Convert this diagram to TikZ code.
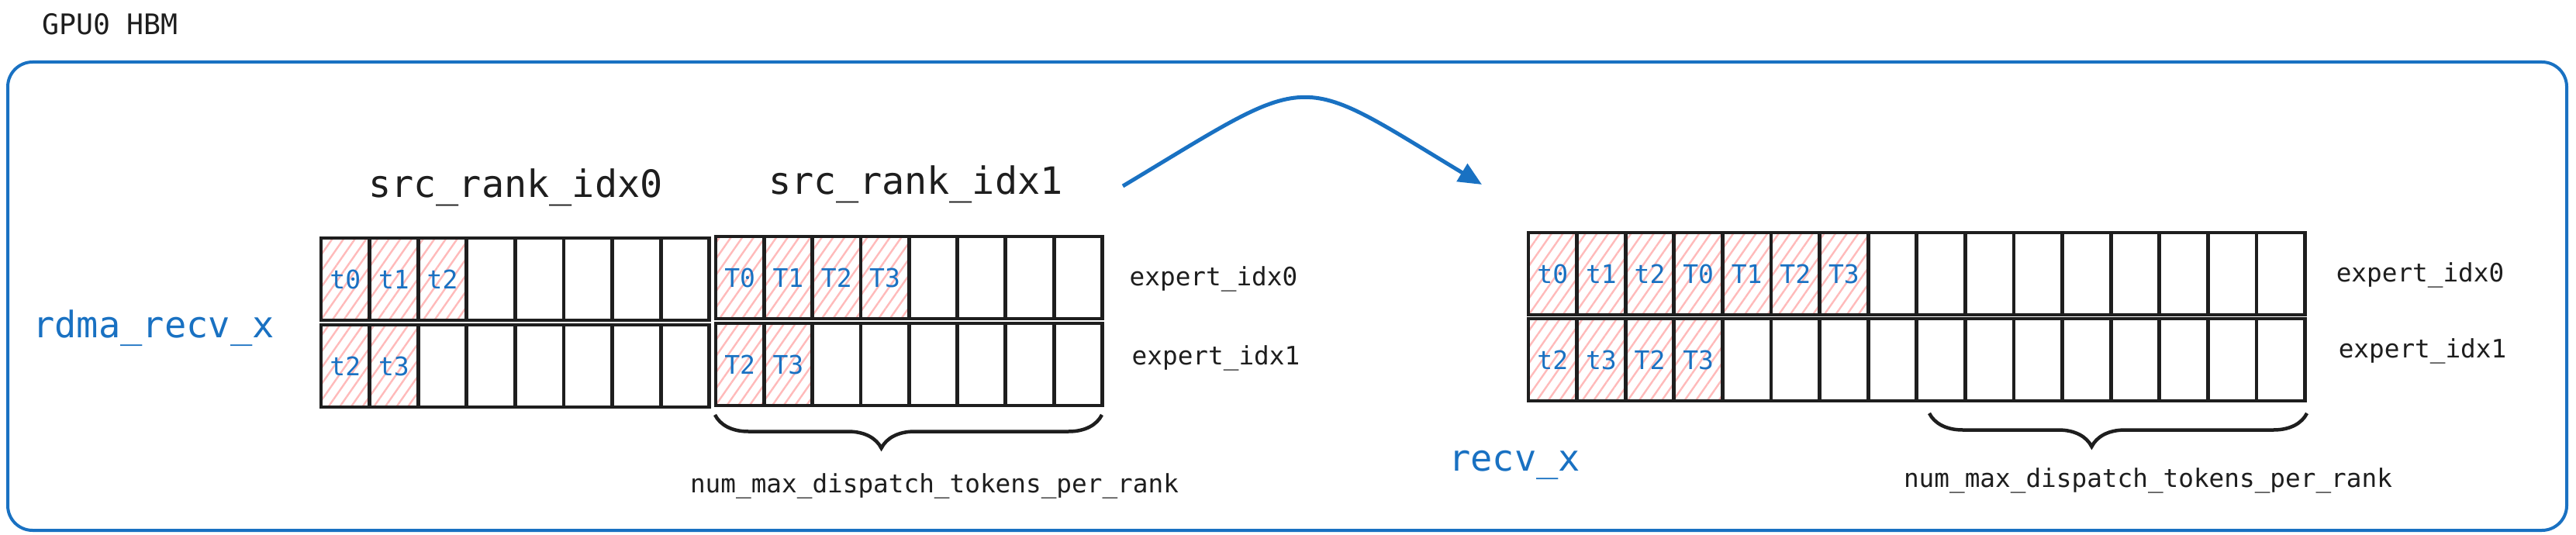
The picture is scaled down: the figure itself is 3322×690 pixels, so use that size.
\documentclass[tikz,border=0pt]{standalone}
\usepackage{fontspec}
\newfontfamily\codefont{DejaVu Sans Mono}
\usetikzlibrary{patterns.meta,decorations.pathreplacing,arrows.meta}
\definecolor{ink}{HTML}{1E1E1E}
\definecolor{blueink}{HTML}{1971C2}
\definecolor{hatch}{HTML}{FFBABA}
\newcommand{\myfs}[1]{\fontsize{#1}{#1}\selectfont}
\begin{document}
\begin{tikzpicture}[x=1pt,y=-1pt,
  frame/.style={draw=blueink, line width=4pt, rounded corners=32pt, inner sep=0pt},
  cell/.style={draw=ink, line width=4.8pt, minimum width=62.6pt, minimum height=106pt, inner sep=0pt,
    font=\codefont\myfs{33}, text=blueink},
  hatched/.style={pattern={Lines[angle=55,distance=12pt,line width=2.4pt]}, pattern color=hatch},
  title/.style={font=\codefont\myfs{48.5}, text=ink, inner sep=0pt},
  small/.style={font=\codefont\myfs{32.7}, text=ink, inner sep=0pt},
  bluelbl/.style={font=\codefont\myfs{47}, text=blueink, inner sep=0pt},
  brace/.style={decorate, decoration={brace, mirror, amplitude=43pt, aspect=0.43}, draw=ink, line width=4.5pt},
  flow/.style={draw=blueink, line width=5pt, -{Triangle[length=30pt,width=26pt]}}
]
\useasboundingbox (0,0) rectangle (3322,690);

% outer frame
\node[frame, minimum width=3300pt, minimum height=604pt] (hbm) at (1660,382) {};
\node[font=\codefont\myfs{36.5}, text=ink, inner sep=0pt] (gpu) at (142,31) {GPU0 HBM};

% titles and labels
\node[title] (src0) at (665,242) {src\_rank\_idx0};
\node[title] (src1) at (1181,238) {src\_rank\_idx1};
\node[bluelbl] (rdma) at (198,423) {rdma\_recv\_x};
\node[bluelbl] (recv) at (1953,600) {recv\_x};
\node[small] (eL0) at (1565,360) {expert\_idx0};
\node[small] (eL1) at (1568,462) {expert\_idx1};
\node[small] (eR0) at (3121,355) {expert\_idx0};
\node[small] (eR1) at (3124,453) {expert\_idx1};
\node[small] (nL) at (1205,627) {num\_max\_dispatch\_tokens\_per\_rank};
\node[small] (nR) at (2770,620) {num\_max\_dispatch\_tokens\_per\_rank};

% src_rank_idx0 block
\foreach \i/\t in {1/t0,2/t1,3/t2}
  \node[cell,hatched] (a0r1c\i) at ({414+62.6*(\i-0.5)},360) {\t};
\foreach \i in {4,...,8}
  \node[cell] (a0r1c\i) at ({414+62.6*(\i-0.5)},360) {};
\foreach \i/\t in {1/t2,2/t3}
  \node[cell,hatched] (a0r2c\i) at ({414+62.6*(\i-0.5)},472) {\t};
\foreach \i in {3,...,8}
  \node[cell] (a0r2c\i) at ({414+62.6*(\i-0.5)},472) {};

% src_rank_idx1 block
\foreach \i/\t in {1/T0,2/T1,3/T2,4/T3}
  \node[cell,hatched,minimum width=62.3pt] (a1r1c\i) at ({923+62.3*(\i-0.5)},358) {\t};
\foreach \i in {5,...,8}
  \node[cell,minimum width=62.3pt] (a1r1c\i) at ({923+62.3*(\i-0.5)},358) {};
\foreach \i/\t in {1/T2,2/T3}
  \node[cell,hatched,minimum width=62.3pt] (a1r2c\i) at ({923+62.3*(\i-0.5)},470) {\t};
\foreach \i in {3,...,8}
  \node[cell,minimum width=62.3pt] (a1r2c\i) at ({923+62.3*(\i-0.5)},470) {};

% recv_x block
\foreach \i/\t in {1/t0,2/t1,3/t2,4/T0,5/T1,6/T2,7/T3}
  \node[cell,hatched] (brr1c\i) at ({1971+62.6*(\i-0.5)},353) {\t};
\foreach \i in {8,...,16}
  \node[cell] (brr1c\i) at ({1971+62.6*(\i-0.5)},353) {};
\foreach \i/\t in {1/t2,2/t3,3/T2,4/T3}
  \node[cell,hatched] (brr2c\i) at ({1971+62.6*(\i-0.5)},464) {\t};
\foreach \i in {5,...,16}
  \node[cell] (brr2c\i) at ({1971+62.6*(\i-0.5)},464) {};

% braces
\coordinate (bLs) at (922,535);
\coordinate (bLe) at (1421,535);
\coordinate (bRs) at (2488,533);
\coordinate (bRe) at (2975,533);
\draw[brace] (bLs) -- (bLe);
\draw[brace] (bRs) -- (bRe);

% arrow
\coordinate (aS) at (1448,240);
\coordinate (aE) at (1911,238);
\draw[flow] (aS) .. controls (1698,90) and (1666,90) .. (aE);
\end{tikzpicture}
\end{document}
